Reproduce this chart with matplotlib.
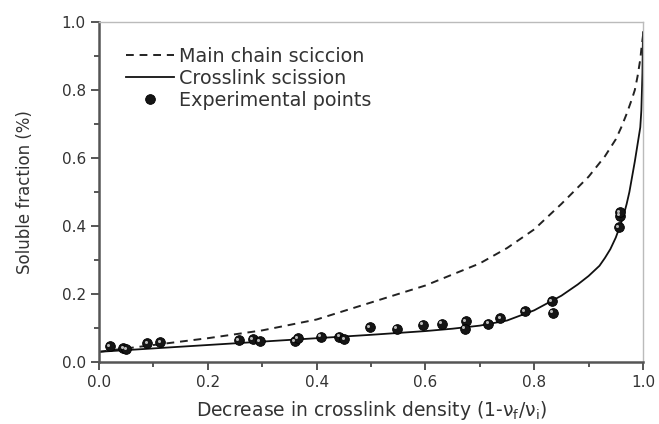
import numpy as np
import matplotlib
matplotlib.use('Agg')
import matplotlib.pyplot as plt
from matplotlib.lines import Line2D
from matplotlib.transforms import ScaledTranslation
from matplotlib.ticker import MultipleLocator

# theoretical curves
main_x = [0.0, 0.10, 0.20, 0.30, 0.40, 0.50, 0.60, 0.70, 0.75, 0.80, 0.85,
          0.90, 0.93, 0.95, 0.96, 0.97, 0.98, 0.985, 0.99, 0.993, 0.995,
          0.997, 1.0]
main_y = [0.030, 0.050, 0.070, 0.093, 0.125, 0.175, 0.225, 0.290, 0.335, 0.390,
          0.465, 0.545, 0.605, 0.655, 0.690, 0.730, 0.775, 0.800, 0.840, 0.870,
          0.890, 0.920, 0.960]

cross_x = [0.0, 0.10, 0.20, 0.30, 0.40, 0.50, 0.60, 0.65, 0.70, 0.75, 0.80,
           0.85, 0.88, 0.90, 0.92, 0.93, 0.94, 0.95, 0.96, 0.965, 0.97, 0.975,
           0.98, 0.985, 0.99, 0.993, 0.995, 0.997, 0.999, 1.0]
cross_y = [0.030, 0.040, 0.050, 0.060, 0.070, 0.080, 0.091, 0.098, 0.107,
           0.122, 0.152, 0.195, 0.228, 0.253, 0.283, 0.306, 0.332, 0.366,
           0.410, 0.435, 0.465, 0.500, 0.545, 0.590, 0.640, 0.670, 0.690,
           0.740, 0.850, 0.970]

# measured soluble fractions
exp_x = [0.020, 0.045, 0.050, 0.089, 0.113, 0.257, 0.283, 0.296, 0.360, 0.366,
         0.408, 0.442, 0.451, 0.498, 0.547, 0.595, 0.630, 0.674, 0.673, 0.716,
         0.738, 0.783, 0.832, 0.834, 0.955, 0.957, 0.958]
exp_y = [0.047, 0.041, 0.038, 0.056, 0.058, 0.064, 0.067, 0.062, 0.062, 0.070,
         0.075, 0.075, 0.067, 0.103, 0.098, 0.110, 0.113, 0.120, 0.098, 0.113,
         0.129, 0.149, 0.178, 0.145, 0.396, 0.430, 0.440]

plt.rcParams['font.family'] = ['DejaVu Sans']
plt.rcParams['mathtext.fontset'] = 'dejavusans'
txt = '#333333'

fig = plt.figure(figsize=(6.59, 4.24), dpi=100)
ax = fig.add_axes([0.1502, 0.1462, 0.8255, 0.8019])

ax.plot(main_x, main_y, ls=(0, (4, 3)), color='#222222', lw=1.4)
ax.plot(cross_x, cross_y, ls='-', color='#111111', lw=1.3)

ax.plot(exp_x, exp_y, 'o', ms=7, mfc='#151515', mec='#000000', mew=0.6)
shine = ax.transData + ScaledTranslation(-1.2 / 72, 1.0 / 72, fig.dpi_scale_trans)
ax.plot(exp_x, exp_y, 'o', ms=2.2, mfc='#bbbbbb', mec='none', transform=shine)

ax.set_xlim(0, 1)
ax.set_ylim(0, 1)
ax.xaxis.set_major_locator(MultipleLocator(0.2))
ax.xaxis.set_minor_locator(MultipleLocator(0.1))
ax.yaxis.set_major_locator(MultipleLocator(0.2))
ax.yaxis.set_minor_locator(MultipleLocator(0.1))
ax.tick_params(which='both', direction='out', colors='#555555', labelcolor=txt,
               labelsize=11, width=1.4, top=False, right=False)
ax.tick_params(which='major', length=6)
ax.tick_params(which='minor', length=3.5)

for s in ['left', 'bottom']:
    ax.spines[s].set_color('#555555')
    ax.spines[s].set_linewidth(1.8)
for s in ['top', 'right']:
    ax.spines[s].set_color('#bbbbbb')
    ax.spines[s].set_linewidth(1.0)

ax.set_xlabel(r'Decrease in crosslink density (1-$\mathregular{\nu_f/\nu_i}$)',
              fontsize=13.5, color=txt, labelpad=6)
ax.set_ylabel('Soluble fraction (%)', fontsize=12, color=txt, labelpad=20)

h_main = Line2D([], [], ls=(0, (4, 3)), color='#222222', lw=1.4)
h_cross = Line2D([], [], ls='-', color='#111111', lw=1.3)
h_dot = Line2D([], [], ls='none', marker='o', ms=7, mfc='#151515', mec='#000000', mew=0.6)
ax.legend([h_main, h_cross, h_dot],
          ['Main chain sciccion', 'Crosslink scission', 'Experimental points'],
          loc='upper left', bbox_to_anchor=(0.035, 0.95), frameon=False,
          fontsize=13.8, handlelength=2.5, handletextpad=0.3, labelspacing=0.16,
          labelcolor=txt, borderaxespad=0)

fig.savefig('out.png', dpi=100)
